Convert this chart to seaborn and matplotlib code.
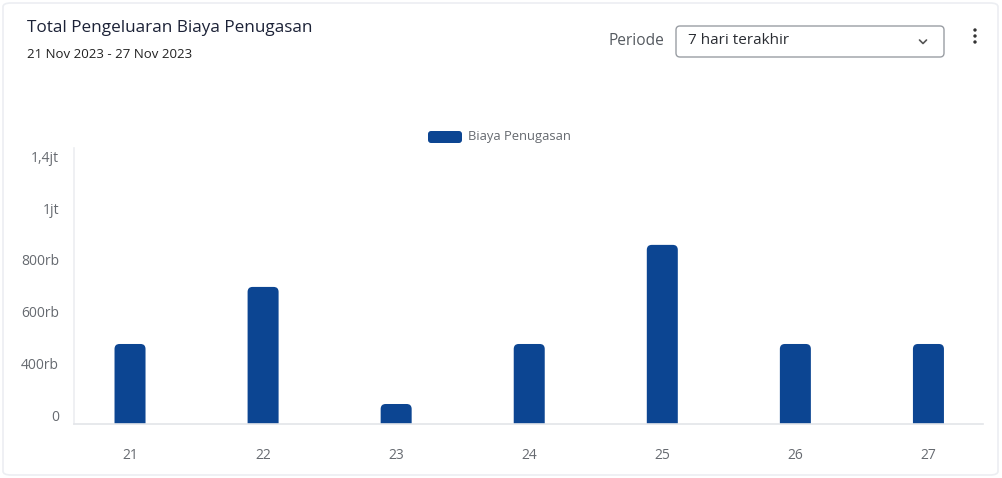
import matplotlib
matplotlib.use("Agg")
import matplotlib.pyplot as plt
import seaborn as sns
import pandas as pd
import numpy as np
from matplotlib.patches import FancyBboxPatch, Circle
from matplotlib.lines import Line2D
from matplotlib.transforms import blended_transform_factory, ScaledTranslation, IdentityTransform

# ---- data ----
days = ["21", "22", "23", "24", "25", "26", "27"]
biaya = [432000, 740000, 108000, 432000, 967000, 432000, 432000]
ytick_values = [0, 280000, 560000, 840000, 1120000, 1400000]
ytick_labels = ["0", "400rb", "600rb", "800rb", "1jt", "1,4jt"]
series_name = "Biaya Penugasan"
title = "Total Pengeluaran Biaya Penugasan"
subtitle = "21 Nov 2023 - 27 Nov 2023"
periode_label = "Periode"
periode_value = "7 hari terakhir"

sns.set_theme(style="white")
FONT = ["Open Sans", "DejaVu Sans"]
plt.rcParams["font.family"] = FONT

W, H = 1002, 478
fig = plt.figure(figsize=(W / 100, H / 100), dpi=100)
fig.patch.set_facecolor("white")

def fx(x):
    return x / W

def fy(y):
    return 1 - y / H

# card border
fig.add_artist(FancyBboxPatch((fx(3), fy(475)), fx(995), (472) / H,
                              boxstyle="round,pad=0,rounding_size=0.008",
                              transform=fig.transFigure, facecolor="none",
                              edgecolor="#eceef2", lw=1.2))

# axes
ax_l, ax_r, ax_b, ax_t = 74, 983, 424, 148
ax = fig.add_axes([fx(ax_l), fy(ax_b), fx(ax_r - ax_l), (ax_b - ax_t) / H])

df = pd.DataFrame({"day": days, "value": biaya})
BAR = "#0C4592"
sns.barplot(data=df, x="day", y="value", color=BAR, width=0.233,
            saturation=1, ax=ax, edgecolor="none")

ax.set_xlim(-0.421, 6.41)
ax.set_ylim(0, 1490000)
ax.set_xlabel("")
ax.set_ylabel("")

# rounded bar tops
fig.canvas.draw()
inv = ax.transData.inverted()
p0 = inv.transform((0, 0))
p1 = inv.transform((1, 1))
xu = p1[0] - p0[0]
yu = p1[1] - p0[1]
r_px = 5
for bar in list(ax.patches):
    x, y0 = bar.get_x(), bar.get_y()
    w, h = bar.get_width(), bar.get_height()
    bar.set_visible(False)
    ext = r_px * yu
    fb = FancyBboxPatch((x, y0 - ext), w, h + ext,
                        boxstyle=f"round,pad=0,rounding_size={r_px * xu}",
                        mutation_aspect=yu / xu, facecolor=BAR,
                        edgecolor="none", clip_on=True)
    ax.add_patch(fb)

# spines
for s in ["top", "right"]:
    ax.spines[s].set_visible(False)
ax.spines["left"].set_color("#eceef1")
ax.spines["bottom"].set_color("#e3e5e9")
ax.spines["left"].set_linewidth(1.2)
ax.spines["bottom"].set_linewidth(1.2)

ax.set_yticks(ytick_values)
ax.set_yticklabels([])
ax.tick_params(axis="y", length=0)
ytr = blended_transform_factory(ax.transAxes, ax.transData) + \
    ScaledTranslation(-15 / 100, 6.5 / 100, fig.dpi_scale_trans)
for v, lab in zip(ytick_values, ytick_labels):
    ax.text(0, v, lab, transform=ytr, ha="right", va="center",
            fontsize=10, color="#666a70", clip_on=False)

ax.tick_params(axis="x", length=0, pad=17, labelsize=10, labelcolor="#666a70")

# legend
fig.add_artist(FancyBboxPatch((fx(428), fy(143)), fx(34), 12 / H,
                              boxstyle="round,pad=0,rounding_size=0.003",
                              mutation_aspect=W / H,
                              transform=fig.transFigure, facecolor=BAR,
                              edgecolor="none"))
fig.text(fx(468), fy(136), series_name, fontsize=9.4, color="#666a70",
         ha="left", va="center")

# header
fig.text(fx(27), fy(28), title, fontsize=12.3, color="#1c2237",
         ha="left", va="center")
fig.text(fx(27), fy(55), subtitle, fontsize=9.5, color="#222222",
         ha="left", va="center")
fig.text(fx(608), fy(41), periode_label, fontsize=11.2, color="#555a60",
         ha="left", va="center")
fig.add_artist(FancyBboxPatch((fx(676), fy(57)), fx(268), 31 / H,
                              boxstyle="round,pad=0,rounding_size=0.004",
                              mutation_aspect=W / H,
                              transform=fig.transFigure, facecolor="white",
                              edgecolor="#9a9ea4", lw=1))
fig.text(fx(688), fy(41), periode_value, fontsize=11, color="#2a2d33",
         ha="left", va="center")
fig.add_artist(Line2D([fx(919.5), fx(923), fx(926.5)], [fy(40), fy(43.5), fy(40)],
                      transform=fig.transFigure, color="#555", lw=1.2,
                      solid_capstyle="round", solid_joinstyle="round"))
for yy in (30, 36, 42):
    fig.add_artist(Circle((975, H - yy), 1.7, transform=IdentityTransform(),
                          facecolor="#333", edgecolor="none"))

fig.savefig("out.png", dpi=100)
